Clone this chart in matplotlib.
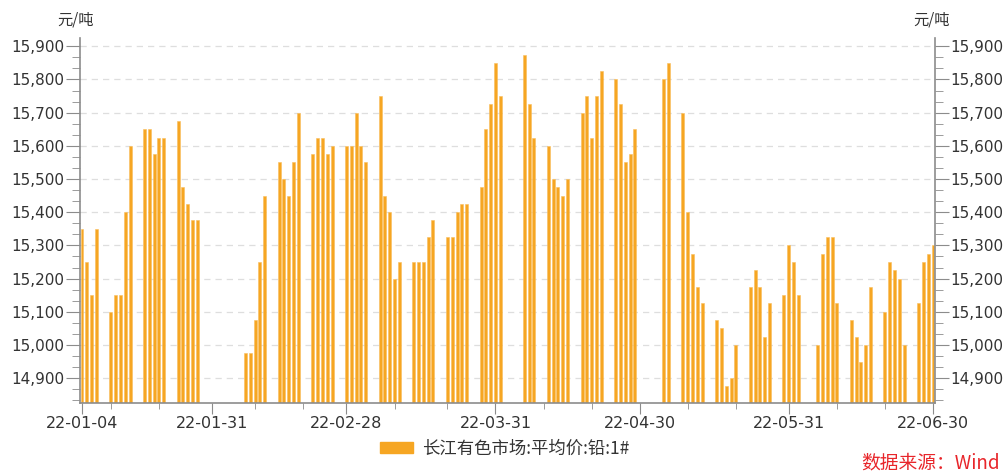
import pandas as pd
import matplotlib
matplotlib.use("Agg")
import matplotlib.pyplot as plt
import matplotlib.dates as mdates
from matplotlib.ticker import FuncFormatter, MultipleLocator, AutoMinorLocator
from matplotlib.patches import Patch

plt.rcParams['font.family'] = ['DejaVu Sans', 'Noto Sans CJK SC']

# trading days: weekdays from 2022-01-04 to 2022-06-30 minus exchange holidays
start_date = "2022-01-04"
end_date = "2022-06-30"
holidays = ["2022-01-31", "2022-02-01", "2022-02-02", "2022-02-03", "2022-02-04",
            "2022-04-04", "2022-04-05", "2022-05-02", "2022-05-03", "2022-05-04",
            "2022-06-03"]

# 长江有色市场:平均价:铅:1# (元/吨)
jan = [15350, 15250, 15150, 15350, 15100, 15150, 15150, 15400, 15600,
       15650, 15650, 15575, 15625, 15625, 15675, 15475, 15425, 15375, 15375]
feb = [14975, 14975, 15075, 15250, 15450, 15550, 15500, 15450, 15550, 15700,
       15575, 15625, 15625, 15575, 15600, 15600]
mar = [15600, 15700, 15600, 15550, 15750, 15450, 15400, 15200, 15250,
       15250, 15250, 15250, 15325, 15375, 15325, 15325, 15400, 15425, 15425,
       15475, 15650, 15725, 15850]
apr = [15750, 15875, 15725, 15625, 15600, 15500, 15475, 15450, 15500,
       15700, 15750, 15625, 15750, 15825, 15800, 15725, 15550, 15575, 15650]
may = [15800, 15850, 15700, 15400, 15275, 15175, 15125, 15075, 15050, 14875,
       14900, 15000, 15175, 15225, 15175, 15025, 15125, 15150, 15300]
jun = [15250, 15150, 15000, 15275, 15325, 15325, 15125, 15075, 15025, 14950,
       15000, 15175, 15100, 15250, 15225, 15200, 15000, 15125, 15250, 15275,
       15300]

label_dates = ["2022-01-04", "2022-01-31", "2022-02-28", "2022-03-31",
               "2022-04-30", "2022-05-31", "2022-06-30"]
minor_dates = ["2022-01-10", "2022-01-20", "2022-02-09", "2022-02-19",
               "2022-03-10", "2022-03-21", "2022-04-10", "2022-04-20",
               "2022-05-10", "2022-05-20", "2022-06-10", "2022-06-20"]

days = pd.bdate_range(start_date, end_date)
days = days[~days.isin(pd.to_datetime(holidays))]
prices = jan + feb + mar + apr + may + jun

bar_color = "#F6A623"
axis_color = "#8C8C8C"
text_color = "#333333"

fig = plt.figure(figsize=(10.06, 4.72), dpi=100)
ax = fig.add_axes([80 / 1006, 1 - 403 / 472, 855 / 1006, 365 / 472])

ax.bar(days, [p - 14825 for p in prices], bottom=14825, width=0.62,
       color=bar_color, edgecolor="#F9BE5C", linewidth=0.4)

ax.set_ylim(14825, 15925)
ax.set_xlim(pd.Timestamp(start_date) - pd.Timedelta(hours=10),
            pd.Timestamp(end_date) + pd.Timedelta(hours=10))

ax.yaxis.set_major_locator(MultipleLocator(100))
ax.yaxis.set_minor_locator(AutoMinorLocator(3))
ax.yaxis.set_major_formatter(FuncFormatter(lambda v, p: f"{v:,.0f}"))
ax.tick_params(axis="y", which="both", left=True, right=True,
               labelleft=True, labelright=True, direction="out",
               color=axis_color, labelcolor=text_color, labelsize=11, pad=1)
ax.tick_params(axis="y", which="major", length=10)
ax.tick_params(axis="y", which="minor", length=6)

ax.set_xticks(pd.to_datetime(label_dates))
ax.set_xticks(pd.to_datetime(minor_dates), minor=True)
ax.xaxis.set_major_formatter(mdates.DateFormatter("%y-%m-%d"))
ax.tick_params(axis="x", which="both", direction="out", color=axis_color,
               labelcolor=text_color, labelsize=11.5, pad=1)
ax.tick_params(axis="x", which="major", length=8)
ax.tick_params(axis="x", which="minor", length=4)

ax.grid(axis="y", which="major", linestyle=(0, (5, 4)), color="#DEDEDE",
        linewidth=0.9)
ax.set_axisbelow(True)

ax.spines["top"].set_visible(False)
for side in ["left", "right", "bottom"]:
    ax.spines[side].set_color(axis_color)
    ax.spines[side].set_linewidth(1.2)

fig.text(57 / 1006, 1 - 20 / 472, "元/吨", fontsize=11, color=text_color,
         family=["Noto Sans CJK SC"], va="center", ha="left")
fig.text(913 / 1006, 1 - 20 / 472, "元/吨", fontsize=11, color=text_color,
         family=["Noto Sans CJK SC"], va="center", ha="left")

handle = Patch(facecolor=bar_color, edgecolor=bar_color)
fig.legend([handle], ["长江有色市场:平均价:铅:1#"], loc="center",
           bbox_to_anchor=(505 / 1006, 1 - 449 / 472), frameon=False,
           handlelength=1.9, handleheight=0.6, handletextpad=0.5,
           prop={"family": ["Noto Sans CJK SC"], "size": 12.5},
           labelcolor=text_color)

fig.text(1000 / 1006, 1 - 463 / 472, "数据来源：Wind", fontsize=13.5,
         color="#E8262B", family=["Noto Sans CJK SC"], ha="right", va="center")

fig.savefig("out.png", dpi=100)
